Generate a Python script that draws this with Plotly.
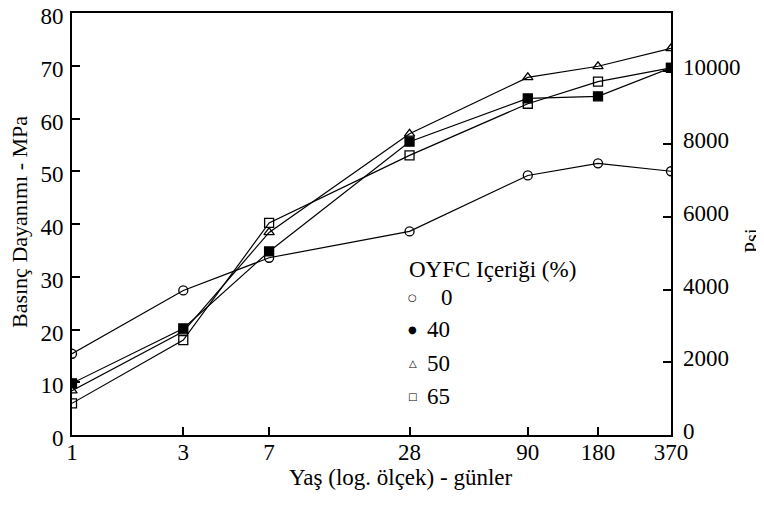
import plotly.graph_objects as go

# age (days) and compressive strength (MPa) per OYFC content
days = [1, 3, 7, 28, 90, 180, 370]
oyfc_0 = [15.4, 27.4, 33.6, 38.6, 49.2, 51.5, 50.0]
oyfc_40 = [9.8, 20.2, 34.8, 55.6, 63.8, 64.2, 69.6]
oyfc_50 = [8.4, 19.6, 38.4, 57.1, 67.8, 69.9, 73.3]
oyfc_65 = [6.0, 18.0, 40.2, 53.0, 62.8, 67.0, 69.6]

x_ticks = [1, 3, 7, 28, 90, 180, 370]
mpa_ticks = [0, 10, 20, 30, 40, 50, 60, 70, 80]
psi_ticks = [0, 2000, 4000, 6000, 8000, 10000]
legend_labels = ["0", "40", "50", "65"]
MPA_TO_PSI = 145.04

# page body has an 8px margin, so the figure is shrunk by it
OFF = 8
W, H = 764 - OFF, 505 - OFF
L, R, T, B = 72 - OFF, 671 - OFF, 13 - OFF, 435 - OFF
FONT = "'Liberation Serif', 'Times New Roman', 'DejaVu Serif', serif"


def px(x):
    # screen pixel -> paper x
    return (x - OFF - L) / (R - L)


def py(y):
    return (B - (y - OFF)) / (B - T)


fig = go.Figure()

series = [
    (oyfc_0, "circle-open", "black"),
    (oyfc_40, "square", "black"),
    (oyfc_50, "triangle-up-open", "black"),
    (oyfc_65, "square-open", "black"),
]
for vals, sym, col in series:
    fig.add_trace(go.Scatter(
        x=days, y=vals, mode="lines+markers",
        line=dict(color="black", width=1.2),
        marker=dict(symbol=sym, size=9, color=col,
                    line=dict(color="black", width=1.3)),
        showlegend=False,
    ))

# invisible trace to carry the psi axis
fig.add_trace(go.Scatter(x=[1], y=[0], yaxis="y2", mode="markers",
                         marker=dict(opacity=0), showlegend=False,
                         hoverinfo="skip"))

tickfont = dict(family=FONT, size=23, color="black")

fig.update_layout(
    width=W, height=H,
    margin=dict(l=L, r=W - R, t=T, b=H - B, pad=0),
    plot_bgcolor="white", paper_bgcolor="white",
    xaxis=dict(
        type="log", range=[0, 2.5682], tickvals=x_ticks,
        ticktext=[str(v) for v in x_ticks],
        ticks="inside", ticklen=8, tickwidth=1.5, tickcolor="black",
        showline=True, linecolor="black", linewidth=1.5, mirror=True,
        showgrid=False, zeroline=False, tickfont=tickfont,
        ticklabelstandoff=-4, ticklabeloverflow="allow", automargin=False,
    ),
    yaxis=dict(
        range=[0, 80], tickvals=mpa_ticks,
        ticks="inside", ticklen=8, tickwidth=1.5, tickcolor="black",
        showline=True, linecolor="black", linewidth=2, mirror=True,
        showgrid=False, zeroline=False, tickfont=tickfont,
        ticklabelstandoff=2, ticklabelshift=3,
        ticklabeloverflow="allow", automargin=False,
    ),
    yaxis2=dict(
        overlaying="y", side="right", range=[0, 80 * MPA_TO_PSI],
        tickvals=psi_ticks, ticktext=[str(v) for v in psi_ticks],
        ticks="inside", ticklen=8, tickwidth=1.5,
        tickcolor="black", showgrid=False, zeroline=False,
        showline=False, tickfont=tickfont, ticklabelstandoff=11,
        ticklabelshift=-4, ticklabeloverflow="allow", automargin=False,
    ),
)

ann = []
ann.append(dict(text="Yaş (log. ölçek) - günler", x=px(400), y=py(477),
                font=dict(family=FONT, size=23, color="black")))
ann.append(dict(text="Basınç Dayanımı - MPa", x=px(20), y=py(222),
                textangle=-90, font=dict(family=FONT, size=22, color="black")))
ann.append(dict(text="Psi", x=px(752), y=py(240), textangle=-90,
                font=dict(family=FONT, size=20, color="black")))
ann.append(dict(text="OYFC Içeriği (%)", x=px(407), y=py(269), xanchor="left",
                font=dict(family=FONT, size=23, color="black")))

leg_syms = ["○", "●", "△", "□"]
leg_y = [297, 329, 363, 396]
leg_tx = [439, 425, 425, 425]
for s, lab, yy, tx in zip(leg_syms, legend_labels, leg_y, leg_tx):
    ann.append(dict(text=s, x=px(413), y=py(yy),
                    font=dict(family="DejaVu Sans", size=10, color="black")))
    ann.append(dict(text=lab, x=px(tx), y=py(yy), xanchor="left",
                    font=dict(family=FONT, size=23, color="black")))

for a in ann:
    a.setdefault("xanchor", "center")
    a.update(xref="paper", yref="paper", yanchor="middle", showarrow=False)
fig.update_layout(annotations=ann)

fig.write_html("out.html")
